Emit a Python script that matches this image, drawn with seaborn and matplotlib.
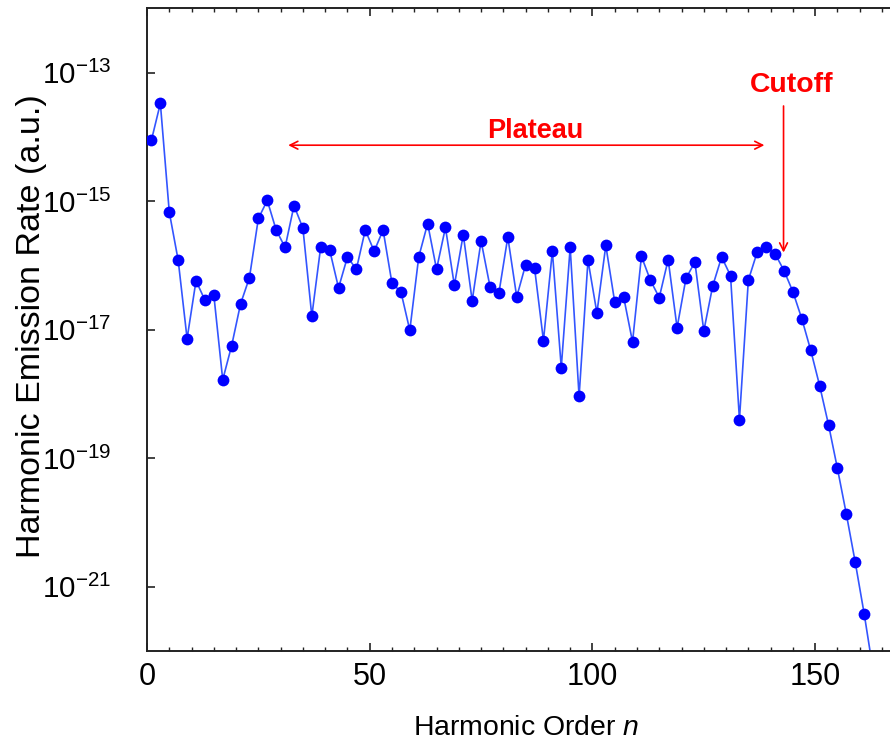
import numpy as np
import pandas as pd
import matplotlib
matplotlib.use("Agg")
import matplotlib.pyplot as plt
from matplotlib import font_manager as fm
from matplotlib.ticker import FixedLocator, FixedFormatter, MultipleLocator
import seaborn as sns

# ---------------- data ----------------
harmonic_order = list(range(1, 165, 2))
log10_rate = [
    -14.05, -13.48, -15.17, -15.92, -17.14, -16.24, -16.54, -16.46, -17.78, -17.25,
    -16.60, -16.19, -15.27, -14.99, -15.45, -15.72, -15.07, -15.42, -16.79, -15.71,
    -15.76, -16.35, -15.87, -16.06, -15.45, -15.78, -15.45, -16.28, -16.41, -17.01,
    -15.87, -15.35, -16.06, -15.41, -16.31, -15.52, -16.55, -15.62, -16.33, -16.43,
    -15.56, -16.49, -15.99, -16.04, -17.17, -15.78, -17.59, -15.72, -18.04, -15.92,
    -16.74, -15.69, -16.57, -16.49, -17.19, -15.86, -16.23, -16.50, -15.91, -16.97,
    -16.20, -15.95, -17.02, -16.32, -15.87, -16.16, -18.40, -16.23, -15.79, -15.71,
    -15.82, -16.08, -16.41, -16.83, -17.32, -17.87, -18.48, -19.16, -19.87, -20.62,
    -21.42, -22.30,
]
ytick_values = [1e-21, 1e-19, 1e-17, 1e-15, 1e-13]
ytick_labels = [r"$\mathregular{10^{-21}}$", r"$\mathregular{10^{-19}}$",
                r"$\mathregular{10^{-17}}$", r"$\mathregular{10^{-15}}$",
                r"$\mathregular{10^{-13}}$"]
xtick_values = [0, 50, 100, 150]
xtick_labels = ["0", "50", "100", "150"]

df = pd.DataFrame({"n": harmonic_order, "rate": 10.0 ** np.array(log10_rate)})

# ---------------- style ----------------
sns.set_style("ticks")
names = {f.name for f in fm.fontManager.ttflist}
NARROW = "Liberation Sans Narrow" if "Liberation Sans Narrow" in names else "Liberation Sans"
REG = "Liberation Sans" if "Liberation Sans" in names else "DejaVu Sans"
shrink = 1.0 if NARROW == "Liberation Sans Narrow" else 0.85

plt.rcParams["font.family"] = [NARROW, "DejaVu Sans"]
plt.rcParams["mathtext.fontset"] = "custom"
plt.rcParams["mathtext.rm"] = NARROW
plt.rcParams["mathtext.it"] = NARROW + ":italic"
plt.rcParams["mathtext.bf"] = NARROW + ":bold"

fig = plt.figure(figsize=(8.9, 7.4), dpi=100)
ax = fig.add_axes([147 / 890, 1 - 651 / 740, 1 - 147 / 890, (651 - 8.3) / 740])
ax.set_yscale("log")

sns.lineplot(data=df, x="n", y="rate", ax=ax, color="#3355ff", linewidth=1.2,
             zorder=2, legend=False)
sns.scatterplot(data=df, x="n", y="rate", ax=ax, color="#0000ff", s=72,
                linewidth=0, zorder=3, legend=False)

ax.set_xlim(0, 166.8)
ax.set_ylim(1e-22, 1e-12)

ax.xaxis.set_major_locator(FixedLocator(xtick_values))
ax.xaxis.set_major_formatter(FixedFormatter(xtick_labels))
ax.xaxis.set_minor_locator(MultipleLocator(5))
ax.yaxis.set_major_locator(FixedLocator(ytick_values))
ax.yaxis.set_major_formatter(FixedFormatter(ytick_labels))
ax.yaxis.set_minor_locator(FixedLocator([]))

ax.tick_params(axis="x", which="both", direction="in", top=True, bottom=True,
               labelsize=26 * shrink, pad=8.0, colors="#222222")
ax.tick_params(axis="x", which="major", length=5.8, width=1.2)
ax.tick_params(axis="x", which="minor", length=3.0, width=1.0)
ax.tick_params(axis="y", which="major", direction="in", left=True, right=False,
               length=5.8, width=1.2, labelsize=25 * shrink, pad=26,
               colors="#222222")
for t in ax.get_xticklabels() + ax.get_yticklabels():
    t.set_color("black")

for side in ["left", "bottom", "top"]:
    ax.spines[side].set_linewidth(1.4)
    ax.spines[side].set_color("#222222")
ax.spines["right"].set_visible(False)
ax.set_xlabel("")
ax.set_ylabel("")

# axis labels
fig.text(526 / 890, 1 - 735 / 740, r"Harmonic Order $\mathit{n}$", ha="center",
         va="baseline", fontsize=24 * shrink, color="black")
fig.text(40 / 890, 1 - 326.5 / 740, "Harmonic Emission Rate (a.u.)", rotation=90,
         rotation_mode="anchor", ha="center", va="baseline", fontsize=24.5,
         family=[REG, "DejaVu Sans"], color="black")

# annotations
ax.annotate("", xy=(31.7, 10 ** -14.13), xytext=(138.6, 10 ** -14.13),
            arrowprops=dict(arrowstyle="<->", color="red", lw=1.2,
                            mutation_scale=14, shrinkA=0, shrinkB=0))
ax.text(87.1, 10 ** -14.02, "Plateau", color="red", fontweight="bold",
        fontsize=23 * shrink, ha="center", va="baseline")
ax.annotate("", xy=(142.9, 10 ** -15.80), xytext=(142.9, 10 ** -13.52),
            arrowprops=dict(arrowstyle="->", color="red", lw=1.2,
                            mutation_scale=14, shrinkA=0, shrinkB=0))
ax.text(144.7, 10 ** -13.31, "Cutoff", color="red", fontweight="bold",
        fontsize=24 * shrink, ha="center", va="baseline")

fig.savefig("out.png", dpi=100)
